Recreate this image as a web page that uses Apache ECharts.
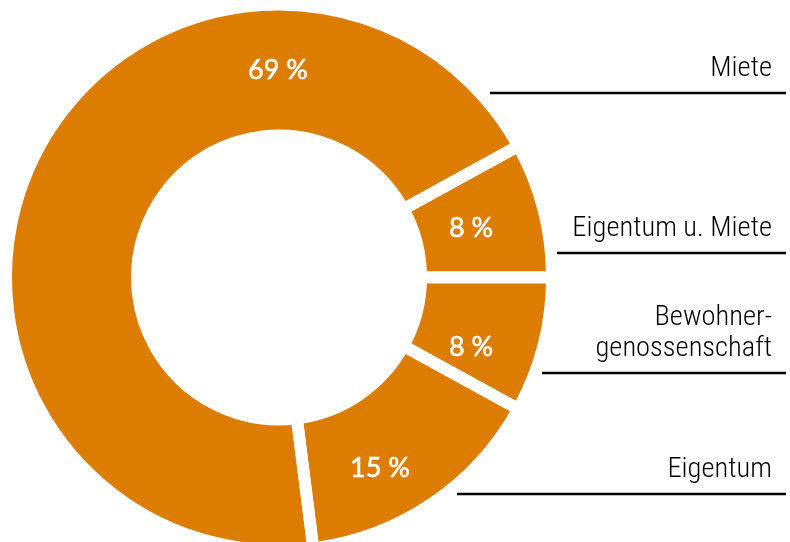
<!DOCTYPE html>
<html><head><meta charset="utf-8">
<script src="https://cdn.jsdelivr.net/npm/echarts@6/dist/echarts.min.js"></script>
<style>html,body{margin:0;padding:0;background:#fff}#c{width:790px;height:542px}</style>
</head><body><div id="c"></div>
<script>
const categories = ['Eigentum u. Miete', 'Bewohner-\ngenossenschaft', 'Eigentum', 'Miete'];
const values = [8, 8, 15, 69];

const data = categories.map((n, i) => ({ name: n, value: values[i] }));

// label layout (positions only)
const innerPos = [[471, 228], [471, 347], [380, 468], [278, 70]];
const outerLabel = [
  { lineY: 253, x0: 557 },
  { lineY: 373, x0: 542 },
  { lineY: 494, x0: 457 },
  { lineY: 93, x0: 490 }
];

const chart = echarts.init(document.getElementById('c'), null, { renderer: 'canvas' });
const common = {
  type: 'pie', center: [279, 277.5], radius: [142, 273], startAngle: 28.8,
  clockwise: true, avoidLabelOverlap: false, animation: false, data: data
};
chart.setOption({
  backgroundColor: '#fff',
  animation: false,
  series: [
    Object.assign({}, common, {
      itemStyle: { color: '#DC7C00', borderColor: '#fff', borderWidth: 12 },
      emphasis: { disabled: true },
      label: { show: true, position: 'inside', formatter: '{c} %', color: '#fff', fontSize: 27, fontWeight: 400, fontFamily: 'Lato, sans-serif', textBorderColor: '#fff', textBorderWidth: 0.6 },
      labelLine: { show: false },
      labelLayout: p => ({ x: innerPos[p.dataIndex][0], y: innerPos[p.dataIndex][1], align: 'center', verticalAlign: 'middle' })
    }),
    Object.assign({}, common, {
      silent: true,
      itemStyle: { color: 'rgba(0,0,0,0)' },
      emphasis: { disabled: true },
      label: { show: true, position: 'outside', formatter: '{b}', color: '#000', fontSize: 28.5, lineHeight: 31, fontWeight: 300, fontFamily: "'Roboto Condensed', sans-serif", align: 'right' },
      labelLine: { show: true, lineStyle: { color: '#000', width: 2.5 } },
      labelLayout: p => {
        const o = outerLabel[p.dataIndex];
        return { x: 772, y: o.lineY - 9, align: 'right', verticalAlign: 'bottom', labelLinePoints: [[o.x0, o.lineY], [786, o.lineY]] };
      }
    })
  ]
});
</script></body></html>
